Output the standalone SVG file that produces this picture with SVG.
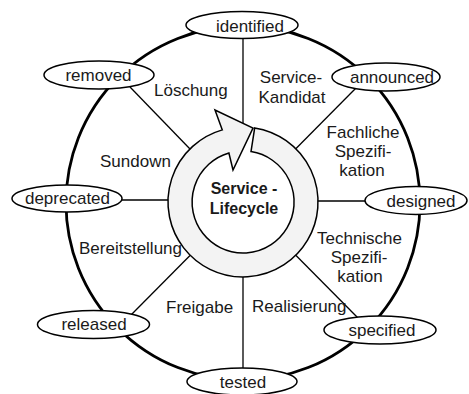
<svg xmlns="http://www.w3.org/2000/svg" width="469" height="394" viewBox="0 0 469 394">
<style>
  .state ellipse { fill: #fff; stroke: #000; stroke-width: 1.5; }
  .state text, .lbl { font-family: "Liberation Sans", Arial, sans-serif; font-size: 17px; fill: #1a1a1a; }
  .state text { text-anchor: middle; }
  .spoke { stroke: #000; stroke-width: 1.3; fill: none; }
  .rim { stroke: #000; stroke-width: 2.8; fill: none; }
  .mid { text-anchor: middle; }
  .center { font-family: "Liberation Sans", Arial, sans-serif; font-size: 16px; font-weight: bold; text-anchor: middle; fill: #1a1a1a; }
</style>
<rect width="469" height="394" fill="#fff"/>
<g id="connectors">
  <circle class="rim" cx="243" cy="203" r="177"/>
  <line class="spoke" x1="243" y1="36" x2="243" y2="124"/>
  <line class="spoke" x1="356" y1="88" x2="295.8" y2="148.7"/>
  <line class="spoke" x1="318" y1="201" x2="370" y2="201"/>
  <line class="spoke" x1="295.8" y1="255.3" x2="358" y2="318"/>
  <line class="spoke" x1="243" y1="277" x2="243" y2="372"/>
  <line class="spoke" x1="190" y1="255.5" x2="128" y2="318"/>
  <line class="spoke" x1="118" y1="200" x2="168" y2="200"/>
  <line class="spoke" x1="130" y1="87" x2="190" y2="149"/>
</g>
<g id="lifecycle">
  <path d="M 254.7,127.9 A 75 75 0 1 1 222.3,129.9 L 215,110 L 253,128 L 233,170 L 228.9,153 A 51 51 0 1 0 251,151.6 Z" fill="#f3f3f3" stroke="#000" stroke-width="1.5" stroke-linejoin="miter"/>
  <text class="center" x="244" y="194">Service -</text>
  <text class="center" x="244" y="214">Lifecycle</text>
</g>
<g id="identified" class="state"><ellipse cx="242" cy="25" rx="56" ry="13.5"/><text x="250" y="31.5">identified</text></g>
<g id="announced" class="state"><ellipse cx="386" cy="77" rx="54" ry="14"/><text x="392" y="83">announced</text></g>
<g id="designed" class="state"><ellipse cx="416" cy="200.5" rx="51" ry="14"/><text x="421" y="206.5">designed</text></g>
<g id="specified" class="state"><ellipse cx="380" cy="330" rx="56" ry="14"/><text x="382" y="336">specified</text></g>
<g id="tested" class="state"><ellipse cx="242" cy="381.5" rx="55" ry="13.5"/><text x="243" y="388">tested</text></g>
<g id="released" class="state"><ellipse cx="93.5" cy="324.5" rx="56" ry="14"/><text x="94" y="330">released</text></g>
<g id="deprecated" class="state"><ellipse cx="67" cy="198.5" rx="55" ry="13.5"/><text x="67.5" y="204">deprecated</text></g>
<g id="removed" class="state"><ellipse cx="99" cy="75" rx="55" ry="14"/><text x="98.5" y="80.5">removed</text></g>
<g id="labels">
  <text class="lbl mid" x="291" y="83">Service-</text>
  <text class="lbl mid" x="292" y="103">Kandidat</text>
  <text class="lbl" x="154" y="96">Löschung</text>
  <text class="lbl" x="100" y="167">Sundown</text>
  <text class="lbl mid" x="363" y="138">Fachliche</text>
  <text class="lbl mid" x="363" y="157">Spezifi-</text>
  <text class="lbl mid" x="362" y="176">kation</text>
  <text class="lbl mid" x="359.5" y="244">Technische</text>
  <text class="lbl mid" x="359" y="263">Spezifi-</text>
  <text class="lbl mid" x="360" y="282">kation</text>
  <text class="lbl" x="79" y="254">Bereitstellung</text>
  <text class="lbl" x="166" y="313">Freigabe</text>
  <text class="lbl" x="252" y="312">Realisierung</text>
</g>
</svg>
